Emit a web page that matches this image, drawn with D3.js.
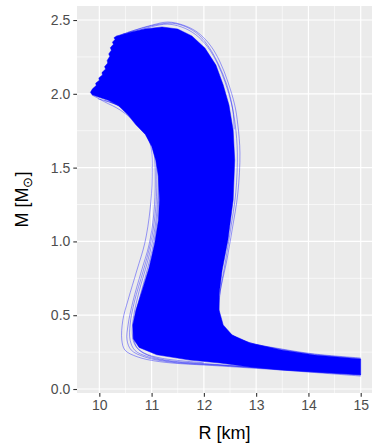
<!DOCTYPE html>
<html>
<head>
<meta charset="utf-8">
<script src="https://cdn.jsdelivr.net/npm/d3@7"></script>
<style>
  html, body { margin: 0; padding: 0; background: #ffffff; }
  svg text { font-family: "Liberation Sans", Arial, Helvetica, sans-serif; }
</style>
</head>
<body>
<div id="chart"></div>
<script>
// axis ticks
const xTicks = [10, 11, 12, 13, 14, 15];
const xMinorTicks = [10.5, 11.5, 12.5, 13.5, 14.5];
const yTicks = [0.0, 0.5, 1.0, 1.5, 2.0, 2.5];
const yMinorTicks = [0.25, 0.75, 1.25, 1.75, 2.25];

// outline of the dense bundle of M-R curves, [R km, M Msun]
const bandEdge = [
  [10.33, 2.392], [10.28, 2.380], [10.30, 2.368], [10.25, 2.350], [10.27, 2.336],
  [10.21, 2.312], [10.23, 2.296], [10.18, 2.270], [10.20, 2.254], [10.15, 2.226],
  [10.16, 2.208], [10.10, 2.184], [10.12, 2.168], [10.05, 2.144], [10.06, 2.128],
  [9.99, 2.108], [10.00, 2.092], [9.93, 2.072], [9.94, 2.056], [9.87, 2.034],
  [9.83, 2.010], [9.86, 1.994], [9.98, 1.978], [10.17, 1.956], [10.36, 1.922],
  [10.55, 1.856], [10.70, 1.790], [10.88, 1.725], [11.00, 1.645], [11.08, 1.550],
  [11.13, 1.440], [11.15, 1.280], [11.13, 1.145], [11.06, 0.990], [10.95, 0.820],
  [10.82, 0.670], [10.70, 0.535], [10.64, 0.434], [10.65, 0.340], [10.76, 0.282],
  [11.10, 0.232], [11.73, 0.196], [12.31, 0.176], [12.88, 0.150], [13.49, 0.129],
  [14.12, 0.115], [15.00, 0.096], [15.00, 0.203], [14.12, 0.230], [13.49, 0.264],
  [12.88, 0.312], [12.54, 0.366], [12.37, 0.434], [12.29, 0.535], [12.29, 0.637],
  [12.35, 0.806], [12.46, 1.009], [12.56, 1.280], [12.59, 1.551], [12.56, 1.755],
  [12.48, 1.924], [12.37, 2.060], [12.23, 2.195], [12.02, 2.310], [11.77, 2.392],
  [11.50, 2.439], [11.20, 2.453], [10.87, 2.440], [10.60, 2.418], [10.42, 2.400]
];

// individual curves that stand out at the edges of the bundle
const curveRightOuter = [
  [15.00, 0.210], [14.12, 0.237], [13.49, 0.271], [12.84, 0.318], [12.46, 0.386],
  [12.31, 0.467], [12.29, 0.603], [12.44, 0.874], [12.54, 1.077], [12.65, 1.328],
  [12.69, 1.599], [12.65, 1.789], [12.59, 1.924], [12.46, 2.080], [12.31, 2.215],
  [12.12, 2.330], [11.87, 2.419], [11.60, 2.466], [11.31, 2.486], [11.01, 2.466],
  [10.68, 2.432], [10.40, 2.398]
];
const curveRightInner = [
  [15.00, 0.206], [14.12, 0.234], [13.49, 0.268], [12.84, 0.316], [12.44, 0.390],
  [12.30, 0.480], [12.30, 0.620], [12.42, 0.880], [12.51, 1.080], [12.61, 1.330],
  [12.64, 1.600], [12.60, 1.790], [12.53, 1.930], [12.41, 2.075], [12.26, 2.205],
  [12.07, 2.318], [11.84, 2.402], [11.58, 2.452], [11.30, 2.472], [11.00, 2.455],
  [10.70, 2.425], [10.45, 2.405]
];
const curveTop = [
  [12.58, 1.760], [12.55, 1.900], [12.44, 2.060], [12.28, 2.200], [12.10, 2.315],
  [11.90, 2.400], [11.65, 2.455], [11.40, 2.478], [11.15, 2.472], [10.85, 2.448],
  [10.55, 2.416]
];
const curveLeftA = [
  [15.00, 0.088], [13.46, 0.129], [12.31, 0.156], [11.16, 0.185], [10.72, 0.219],
  [10.49, 0.264], [10.43, 0.332], [10.45, 0.467], [10.55, 0.603], [10.72, 0.806],
  [10.87, 0.989], [10.97, 1.213], [11.01, 1.438], [10.97, 1.667], [10.78, 1.777],
  [10.40, 1.890], [10.11, 1.944], [9.86, 1.992]
];
const curveLeftB = [
  [15.00, 0.095], [13.84, 0.122], [12.50, 0.156], [11.35, 0.183], [10.87, 0.217],
  [10.61, 0.264], [10.53, 0.332], [10.55, 0.434], [10.64, 0.589], [10.80, 0.793],
  [10.95, 0.976], [11.04, 1.179], [11.07, 1.416], [11.04, 1.619], [10.93, 1.741],
  [10.64, 1.850], [10.30, 1.931], [9.98, 1.965]
];
const curveLeftC = [
  [15.00, 0.098], [13.80, 0.126], [12.40, 0.160], [11.30, 0.190], [10.90, 0.222],
  [10.68, 0.262], [10.59, 0.330], [10.59, 0.440], [10.67, 0.590], [10.84, 0.800],
  [10.98, 0.985], [11.07, 1.190], [11.10, 1.420], [11.07, 1.610], [10.97, 1.735],
  [10.72, 1.840], [10.40, 1.915], [10.10, 1.955]
];
const curveLeftD = [
  [15.00, 0.100], [13.70, 0.130], [12.30, 0.165], [11.25, 0.197], [10.92, 0.230],
  [10.73, 0.275], [10.66, 0.345], [10.67, 0.450], [10.76, 0.600], [10.91, 0.800],
  [11.04, 0.990], [11.12, 1.200], [11.14, 1.420], [11.11, 1.600], [11.01, 1.720],
  [10.80, 1.825], [10.50, 1.900], [10.20, 1.945]
];
const curveLeftE = [
  [12.00, 0.178], [11.20, 0.208], [10.85, 0.245], [10.68, 0.300], [10.63, 0.380],
  [10.66, 0.500], [10.76, 0.660], [10.92, 0.860], [11.05, 1.060], [11.12, 1.300],
  [11.12, 1.520], [11.05, 1.680], [10.90, 1.780], [10.65, 1.870], [10.35, 1.935]
];
const edgeCurves = [curveRightOuter, curveRightInner, curveTop,
  curveLeftA, curveLeftB, curveLeftC, curveLeftD, curveLeftE];

const width = 373, height = 445;
const margin = { top: 6, right: 1, bottom: 52, left: 77 };
const pw = width - margin.left - margin.right;
const ph = height - margin.top - margin.bottom;

const x = d3.scaleLinear().domain([9.573, 15.216]).range([0, pw]);
const y = d3.scaleLinear().domain([-0.027, 2.595]).range([ph, 0]);

const svg = d3.select("#chart").append("svg")
  .attr("width", width)
  .attr("height", height);

const g = svg.append("g")
  .attr("transform", "translate(" + margin.left + "," + margin.top + ")");

// panel
g.append("rect").attr("width", pw).attr("height", ph).attr("fill", "#EBEBEB");

// grid
g.selectAll(".xminor").data(xMinorTicks).enter().append("line")
  .attr("x1", d => x(d)).attr("x2", d => x(d)).attr("y1", 0).attr("y2", ph)
  .attr("stroke", "#fff").attr("stroke-width", 0.6);
g.selectAll(".yminor").data(yMinorTicks).enter().append("line")
  .attr("y1", d => y(d)).attr("y2", d => y(d)).attr("x1", 0).attr("x2", pw)
  .attr("stroke", "#fff").attr("stroke-width", 0.6);
g.selectAll(".xmajor").data(xTicks).enter().append("line")
  .attr("x1", d => x(d)).attr("x2", d => x(d)).attr("y1", 0).attr("y2", ph)
  .attr("stroke", "#fff").attr("stroke-width", 1.2);
g.selectAll(".ymajor").data(yTicks).enter().append("line")
  .attr("y1", d => y(d)).attr("y2", d => y(d)).attr("x1", 0).attr("x2", pw)
  .attr("stroke", "#fff").attr("stroke-width", 1.2);

// curves
const line = d3.line().x(d => x(d[0])).y(d => y(d[1])).curve(d3.curveCatmullRom);

g.append("path")
  .datum(bandEdge)
  .attr("d", d3.line().x(d => x(d[0])).y(d => y(d[1])).curve(d3.curveLinearClosed))
  .attr("fill", "#0000FF")
  .attr("stroke", "#0000FF")
  .attr("stroke-opacity", 0.6)
  .attr("stroke-width", 0.8);

g.selectAll(".edge").data(edgeCurves).enter().append("path")
  .attr("d", line)
  .attr("fill", "none")
  .attr("stroke", "#0000FF")
  .attr("stroke-opacity", 0.55)
  .attr("stroke-width", 0.7);

// axes
const xAxis = g.append("g")
  .attr("transform", "translate(0," + ph + ")")
  .call(d3.axisBottom(x).tickValues(xTicks).tickSize(3.7).tickPadding(3).tickFormat(d3.format("d")));
const yAxis = g.append("g")
  .call(d3.axisLeft(y).tickValues(yTicks).tickSize(3.7).tickPadding(3).tickFormat(d3.format(".1f")));

[xAxis, yAxis].forEach(a => {
  a.select(".domain").remove();
  a.selectAll(".tick line").attr("stroke", "#333333").attr("stroke-width", 1.1);
  a.selectAll(".tick text")
    .attr("fill", "#4D4D4D")
    .style("font-size", "14px")
    .style("font-family", "'Liberation Sans', Arial, sans-serif");
});

// titles
svg.append("text")
  .attr("x", margin.left + pw / 2)
  .attr("y", 439)
  .attr("text-anchor", "middle")
  .style("font-size", "18px")
  .attr("fill", "#000")
  .text("R [km]");

const yt = svg.append("text")
  .attr("transform", "translate(28," + (margin.top + ph / 2) + ") rotate(-90)")
  .attr("text-anchor", "middle")
  .style("font-size", "18px")
  .attr("fill", "#000");
yt.append("tspan").text("M [M");
yt.append("tspan").attr("dy", 4).style("font-size", "13px").text("\u2299");
yt.append("tspan").attr("dy", -4).text("]");
</script>
</body>
</html>
